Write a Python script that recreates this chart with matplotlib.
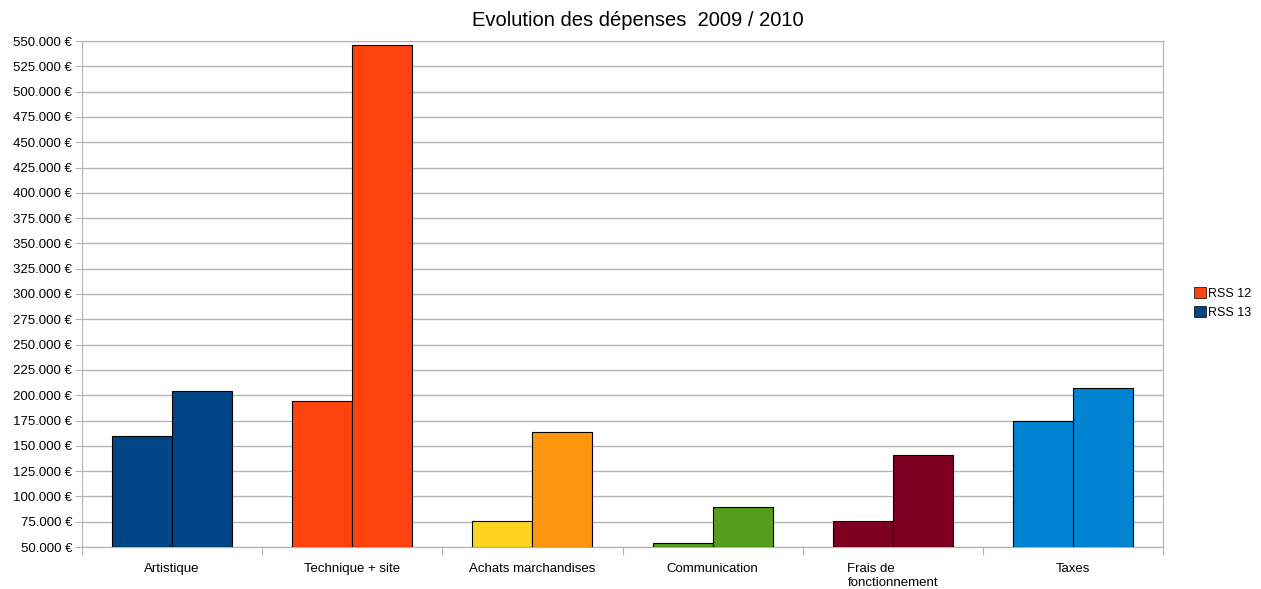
import matplotlib
matplotlib.use("Agg")
import matplotlib.pyplot as plt
import numpy as np
from matplotlib.patches import Patch
from matplotlib.ticker import FuncFormatter, MultipleLocator

plt.rcParams['font.family'] = ['Liberation Sans', 'DejaVu Sans']

categories = ["Artistique", "Technique + site", "Achats marchandises",
              "Communication", "Frais de\nfonctionnement", "Taxes"]
rss12 = [160000, 194000, 76000, 54000, 76000, 175000]
rss13 = [204000, 546000, 164000, 89500, 141000, 207000]
colors12 = ["#004586", "#ff420e", "#ffd320", "#579d1c", "#7e0021", "#0084d1"]
colors13 = ["#004586", "#ff420e", "#ff950e", "#579d1c", "#7e0021", "#0084d1"]
series = ["RSS 12", "RSS 13"]
legend_colors = ["#ff420e", "#004586"]

fig = plt.figure(figsize=(12.61, 5.89), dpi=100)
ax = fig.add_axes([82/1261, 1-547/589, (1163-82)/1261, (547-41)/589])

x = np.arange(len(categories))
w = 1/3
base = 50000
ax.bar(x - w/2, np.array(rss12) - base, bottom=base, width=w, color=colors12,
       edgecolor="black", linewidth=0.8, zorder=3)
ax.bar(x + w/2, np.array(rss13) - base, bottom=base, width=w, color=colors13,
       edgecolor="black", linewidth=0.8, zorder=3)

ax.set_xlim(-0.5, len(categories) - 0.5)
ax.set_ylim(50000, 550000)
ax.yaxis.set_major_locator(MultipleLocator(25000))
ax.yaxis.set_major_formatter(FuncFormatter(lambda v, p: f"{int(v):,}".replace(",", ".") + " €"))
ax.grid(axis="y", color="#b3b3b3", linewidth=1, zorder=0)
for s in ax.spines.values():
    s.set_color("#b3b3b3")
ax.tick_params(axis="y", length=5, color="#b3b3b3", labelsize=9.5, pad=2)

ax.set_xticks(np.arange(len(categories) + 1) - 0.5)
ax.set_xticklabels([])
ax.tick_params(axis="x", length=6, color="#b3b3b3")
for i, c in enumerate(categories):
    ax.text(i, -0.031, c, transform=ax.get_xaxis_transform(), ha="center", va="top",
            fontsize=9.5, multialignment="left", linespacing=1.25)

fig.text(638/1261, 1-20/589, "Evolution des dépenses  2009 / 2010", ha="center", va="center",
         fontsize=14.5)

handles = [Patch(facecolor=c, edgecolor="black", linewidth=0.5) for c in legend_colors]
fig.legend(handles, series, loc="center left", bbox_to_anchor=(1194/1261, 1-303/589),
           frameon=False, fontsize=9, handlelength=0.95, handleheight=0.95,
           handletextpad=0.2, labelspacing=0.5, borderpad=0, borderaxespad=0)

fig.savefig("out.png", dpi=100)
